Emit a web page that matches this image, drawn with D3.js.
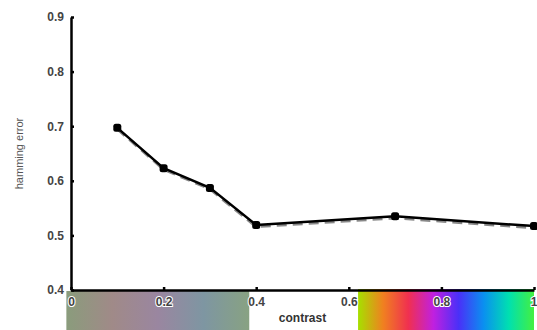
<!DOCTYPE html>
<html>
<head>
<meta charset="utf-8">
<script src="https://cdn.jsdelivr.net/npm/d3@7"></script>
<style>
  body { margin: 0; background: #fff; }
  svg { display: block; }
</style>
</head>
<body>
<div id="chart"></div>
<script>
// values
let contrast = [0.1, 0.2, 0.3, 0.4, 0.7, 1.0];
let errorSolid = [0.697, 0.623, 0.587, 0.519, 0.535, 0.517];
let errorDashed = [0.695, 0.621, 0.585, 0.516, 0.532, 0.514];
let xTicks = [0, 0.2, 0.4, 0.6, 0.8, 1];
let yTicks = [0.4, 0.5, 0.6, 0.7, 0.8, 0.9];

// colour strips under the axis (contrast range + colour stops)
let greyStrip = [-0.01, 0.385];
let greyStops = ["#8a9c7c", "#a08a88", "#9a86a0", "#7e96a2", "#88a282"];
let hueStrip = [0.62, 1.0];
let hueStops = ["#a6e000", "#f08020", "#f03050", "#c020e0", "#4a30f8", "#0a90f0", "#00e0b0", "#44f040"];

let width = 537, height = 330;

let x = d3.scaleLinear()
  .domain([0, 1])
  .range([71, 534]);

let y = d3.scaleLinear()
  .domain([0.4, 0.9])
  .range([290, 17]);

const svg = d3.select("#chart").append("svg")
  .attr("width", width)
  .attr("height", height)
  .style("font-family", "'Liberation Sans', Arial, sans-serif");

let defs = svg.append("defs");

function addGradient(id, stops) {
  let g = defs.append("linearGradient").attr("id", id);
  stops.forEach((c, i) => {
    g.append("stop")
      .attr("offset", (i / (stops.length - 1) * 100) + "%")
      .attr("stop-color", c);
  });
}
addGradient("greyGrad", greyStops);
addGradient("hueGrad", hueStops);

svg.append("rect")
  .attr("x", x(greyStrip[0]))
  .attr("y", 291)
  .attr("width", x(greyStrip[1]) - x(greyStrip[0]))
  .attr("height", height - 291)
  .attr("fill", "url(#greyGrad)");

svg.append("rect")
  .attr("x", x(hueStrip[0]))
  .attr("y", 289)
  .attr("width", x(hueStrip[1]) - x(hueStrip[0]))
  .attr("height", height - 289)
  .attr("fill", "url(#hueGrad)");

// lines
let line = d3.line()
  .x(d => x(d[0]))
  .y(d => y(d[1]));

svg.append("path")
  .datum(contrast.map((c, i) => [c, errorDashed[i]]))
  .attr("fill", "none")
  .attr("stroke", "#888")
  .attr("stroke-width", 3)
  .attr("stroke-dasharray", "10,6")
  .attr("d", line);

svg.append("path")
  .datum(contrast.map((c, i) => [c, errorSolid[i]]))
  .attr("fill", "none")
  .attr("stroke", "#000")
  .attr("stroke-width", 2.5)
  .attr("d", line);

svg.append("g")
  .selectAll("rect")
  .data(contrast.map((c, i) => [c, errorSolid[i]]))
  .join("rect")
    .attr("x", d => x(d[0]) - 4)
    .attr("y", d => y(d[1]) - 4)
    .attr("width", 8)
    .attr("height", 8)
    .attr("rx", 2.5)
    .attr("fill", "#000");

// axes
let styleAxis = g => {
  g.select(".domain").attr("stroke", "#000").attr("stroke-width", 2.5);
  g.selectAll(".tick line").attr("stroke", "#000").attr("stroke-width", 2.5);
  g.selectAll(".tick text")
    .attr("font-size", "12px")
    .attr("font-weight", "bold")
    .attr("fill", "#444")
    .attr("stroke", "#fff")
    .attr("stroke-width", 2)
    .attr("paint-order", "stroke");
};

svg.append("g")
  .attr("transform", "translate(0,290)")
  .call(d3.axisBottom(x).tickValues(xTicks).tickSizeInner(-3).tickSizeOuter(0).tickPadding(7)
    .tickFormat(d3.format("")))
  .call(styleAxis)
  .call(g => g.selectAll(".tick text").filter(d => d === 1).attr("text-anchor", "end").attr("dx", 3));

svg.append("g")
  .attr("transform", "translate(71,0)")
  .call(d3.axisLeft(y).tickValues(yTicks).tickSizeInner(-3).tickSizeOuter(0).tickPadding(7)
    .tickFormat(d3.format(".1f")))
  .call(styleAxis);

svg.append("text")
  .attr("x", x(0.5))
  .attr("y", 322)
  .attr("text-anchor", "middle")
  .attr("font-size", "12px")
  .attr("font-weight", "bold")
  .attr("fill", "#333")
  .text("contrast");

svg.append("text")
  .attr("transform", `translate(23,${y(0.65)}) rotate(-90)`)
  .attr("text-anchor", "middle")
  .attr("font-size", "11px")
  .attr("fill", "#555")
  .text("hamming error");
</script>
</body>
</html>
